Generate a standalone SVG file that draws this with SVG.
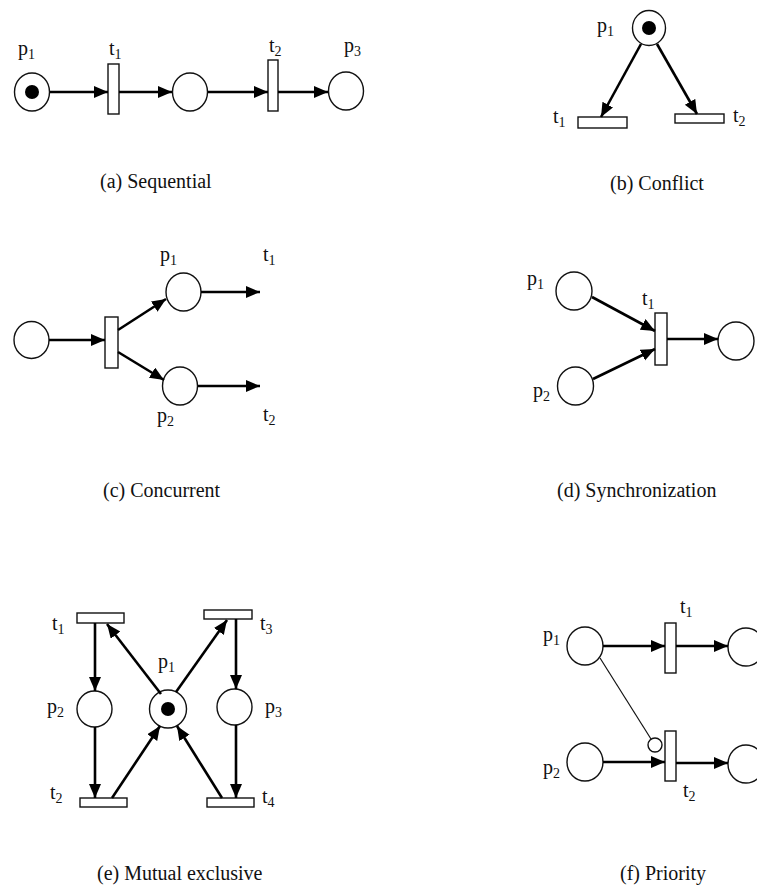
<svg xmlns="http://www.w3.org/2000/svg" width="757" height="888" viewBox="0 0 757 888">
<defs>
<style>
.pl{fill:#fff;stroke:#111;stroke-width:1.4}
.tk{fill:#000}
.tr{fill:#fff;stroke:#111;stroke-width:1.4}
.arc{stroke:#000;stroke-width:2.6;fill:none;marker-end:url(#ah)}
.thin{stroke:#111;stroke-width:1.2;fill:none}
.lb{font-family:"Liberation Serif",serif;font-size:20px;fill:#111}
.sb{font-size:14px}
.cap{font-family:"Liberation Serif",serif;font-size:20px;fill:#111}
</style>
<marker id="ah" markerUnits="userSpaceOnUse" markerWidth="15" markerHeight="13" refX="14" refY="6" orient="auto">
<path d="M0,0 L14,6 L0,12 z" fill="#000"/>
</marker>
</defs>
<rect width="757" height="888" fill="#fff"/>

<!-- (a) Sequential -->
<g id="a_p1"><ellipse class="pl" cx="32" cy="92" rx="17.5" ry="19"/><circle class="tk" cx="32" cy="92" r="7"/><text class="lb" x="18" y="55">p<tspan class="sb" dy="4">1</tspan></text></g>
<g id="a_t1"><rect class="tr" x="108" y="64" width="11" height="50"/><text class="lb" x="109" y="55">t<tspan class="sb" dy="4">1</tspan></text></g>
<g id="a_p2"><ellipse class="pl" cx="190" cy="92" rx="17.5" ry="19"/></g>
<g id="a_t2"><rect class="tr" x="268" y="60" width="10" height="51"/><text class="lb" x="269" y="52">t<tspan class="sb" dy="4">2</tspan></text></g>
<g id="a_p3"><ellipse class="pl" cx="346" cy="91" rx="17.5" ry="19"/><text class="lb" x="344" y="52">p<tspan class="sb" dy="4">3</tspan></text></g>
<g id="a_edges">
<line class="arc" x1="50" y1="92" x2="108" y2="92"/>
<line class="arc" x1="119" y1="92" x2="172" y2="92"/>
<line class="arc" x1="208" y1="92" x2="268" y2="92"/>
<line class="arc" x1="278" y1="92" x2="328" y2="92"/>
</g>
<text class="cap" x="100" y="188">(a) Sequential</text>

<!-- (b) Conflict -->
<g id="b_p1"><ellipse class="pl" cx="649" cy="28" rx="16.5" ry="17.5"/><circle class="tk" cx="649" cy="28" r="7"/><text class="lb" x="597" y="32">p<tspan class="sb" dy="4">1</tspan></text></g>
<g id="b_t1"><rect class="tr" x="578" y="117" width="49" height="11"/><text class="lb" x="553" y="123">t<tspan class="sb" dy="4">1</tspan></text></g>
<g id="b_t2"><rect class="tr" x="675" y="114" width="49" height="9"/><text class="lb" x="733" y="122">t<tspan class="sb" dy="4">2</tspan></text></g>
<g id="b_edges">
<line class="arc" x1="641" y1="44" x2="601" y2="117"/>
<line class="arc" x1="657" y1="44" x2="697" y2="114"/>
</g>
<text class="cap" x="610" y="190">(b) Conflict</text>

<!-- (c) Concurrent -->
<g id="c_p0"><ellipse class="pl" cx="31.5" cy="340" rx="17.5" ry="18.5"/></g>
<g id="c_t0"><rect class="tr" x="105" y="317" width="13" height="51"/></g>
<g id="c_p1"><ellipse class="pl" cx="183.5" cy="292" rx="17.5" ry="19"/><text class="lb" x="160" y="261">p<tspan class="sb" dy="4">1</tspan></text></g>
<g id="c_p2"><ellipse class="pl" cx="180" cy="386" rx="17.5" ry="19"/><text class="lb" x="157" y="422">p<tspan class="sb" dy="4">2</tspan></text></g>
<g id="c_t1"><text class="lb" x="263" y="261">t<tspan class="sb" dy="4">1</tspan></text></g>
<g id="c_t2"><text class="lb" x="263" y="421">t<tspan class="sb" dy="4">2</tspan></text></g>
<g id="c_edges">
<line class="arc" x1="49" y1="340" x2="105" y2="340"/>
<line class="arc" x1="118" y1="330" x2="166" y2="299"/>
<line class="arc" x1="118" y1="352" x2="164" y2="380"/>
<line class="arc" x1="201" y1="292" x2="260" y2="292"/>
<line class="arc" x1="198" y1="386" x2="260" y2="386"/>
</g>
<text class="cap" x="103" y="497">(c) Concurrent</text>

<!-- (d) Synchronization -->
<g id="d_p1"><ellipse class="pl" cx="574" cy="291" rx="18" ry="19"/><text class="lb" x="527" y="285">p<tspan class="sb" dy="4">1</tspan></text></g>
<g id="d_p2"><ellipse class="pl" cx="575.5" cy="386" rx="18" ry="19"/><text class="lb" x="533" y="397">p<tspan class="sb" dy="4">2</tspan></text></g>
<g id="d_t1"><rect class="tr" x="655" y="313" width="12" height="52"/><text class="lb" x="642" y="305">t<tspan class="sb" dy="4">1</tspan></text></g>
<g id="d_p3"><ellipse class="pl" cx="736" cy="341" rx="18" ry="19"/></g>
<g id="d_edges">
<line class="arc" x1="592" y1="297" x2="655" y2="331"/>
<line class="arc" x1="593" y1="379" x2="655" y2="349"/>
<line class="arc" x1="667" y1="339" x2="718" y2="339"/>
</g>
<text class="cap" x="557" y="497">(d) Synchronization</text>

<!-- (e) Mutual exclusive -->
<g id="e_t1"><rect class="tr" x="77" y="613" width="47" height="10"/><text class="lb" x="52" y="630">t<tspan class="sb" dy="4">1</tspan></text></g>
<g id="e_t3"><rect class="tr" x="204" y="610" width="48" height="9"/><text class="lb" x="260" y="630">t<tspan class="sb" dy="4">3</tspan></text></g>
<g id="e_p2"><ellipse class="pl" cx="94.5" cy="709" rx="17.5" ry="18"/><text class="lb" x="47" y="713">p<tspan class="sb" dy="4">2</tspan></text></g>
<g id="e_p1"><ellipse class="pl" cx="168" cy="709" rx="18.5" ry="19"/><circle class="tk" cx="168" cy="709" r="7"/><text class="lb" x="158" y="668">p<tspan class="sb" dy="4">1</tspan></text></g>
<g id="e_p3"><ellipse class="pl" cx="234.5" cy="707" rx="17.5" ry="18"/><text class="lb" x="265" y="713">p<tspan class="sb" dy="4">3</tspan></text></g>
<g id="e_t2"><rect class="tr" x="80" y="798" width="47" height="9"/><text class="lb" x="50" y="799">t<tspan class="sb" dy="4">2</tspan></text></g>
<g id="e_t4"><rect class="tr" x="207" y="798" width="47" height="9"/><text class="lb" x="262" y="803">t<tspan class="sb" dy="4">4</tspan></text></g>
<g id="e_edges">
<line class="arc" x1="95" y1="623" x2="95" y2="691"/>
<line class="arc" x1="95" y1="727" x2="95" y2="798"/>
<line class="arc" x1="236" y1="619" x2="236" y2="689"/>
<line class="arc" x1="236" y1="725" x2="236" y2="798"/>
<line class="arc" x1="161" y1="694" x2="107" y2="624"/>
<line class="arc" x1="176" y1="692" x2="227" y2="620"/>
<line class="arc" x1="112" y1="798" x2="160" y2="726"/>
<line class="arc" x1="222" y1="798" x2="177" y2="726"/>
</g>
<text class="cap" x="97" y="880">(e) Mutual exclusive</text>

<!-- (f) Priority -->
<g id="f_p1"><ellipse class="pl" cx="585" cy="646" rx="18" ry="19"/><text class="lb" x="543" y="641">p<tspan class="sb" dy="4">1</tspan></text></g>
<g id="f_t1"><rect class="tr" x="665" y="623" width="11" height="50"/><text class="lb" x="680" y="613">t<tspan class="sb" dy="4">1</tspan></text></g>
<g id="f_p3"><ellipse class="pl" cx="746" cy="647" rx="18" ry="19"/></g>
<g id="f_p2"><ellipse class="pl" cx="585" cy="762" rx="18" ry="19"/><text class="lb" x="543" y="774">p<tspan class="sb" dy="4">2</tspan></text></g>
<g id="f_t2"><rect class="tr" x="665" y="731" width="11" height="50"/><text class="lb" x="683" y="797">t<tspan class="sb" dy="4">2</tspan></text></g>
<g id="f_p4"><ellipse class="pl" cx="746" cy="764" rx="18" ry="19"/></g>
<g id="f_edges">
<line class="arc" x1="603" y1="646" x2="665" y2="646"/>
<line class="arc" x1="676" y1="646" x2="728" y2="646"/>
<line class="arc" x1="603" y1="762" x2="665" y2="762"/>
<line class="arc" x1="676" y1="763" x2="728" y2="763"/>
<line class="thin" x1="600" y1="658" x2="651" y2="739"/>
<circle class="pl" cx="655" cy="745" r="7"/>
</g>
<text class="cap" x="620" y="880">(f) Priority</text>
</svg>
